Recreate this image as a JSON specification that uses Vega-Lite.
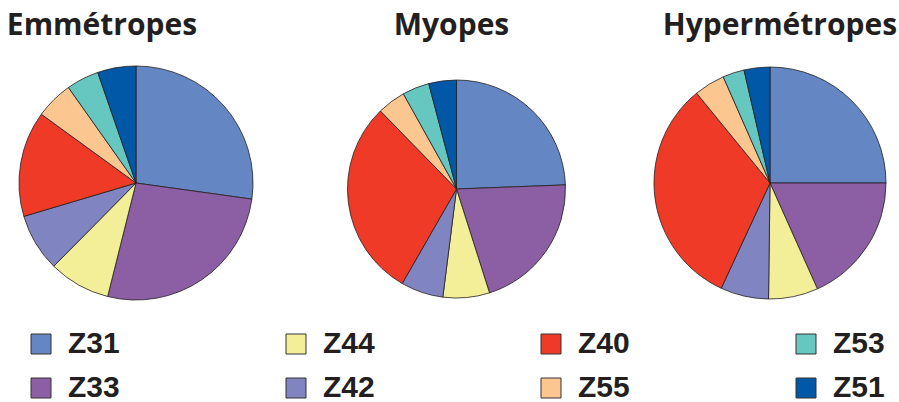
{
  "$schema": "https://vega.github.io/schema/vega-lite/v6.json",
  "padding": {"top": 11, "left": 0, "right": 0, "bottom": 0},
  "background": "white",
  "datasets": {
    "pies": [
      {"group": "Emmétropes", "zone": "Z31", "rank": 1, "value": 27.2},
      {"group": "Emmétropes", "zone": "Z33", "rank": 2, "value": 26.7},
      {"group": "Emmétropes", "zone": "Z44", "rank": 3, "value": 8.5},
      {"group": "Emmétropes", "zone": "Z42", "rank": 4, "value": 8.0},
      {"group": "Emmétropes", "zone": "Z40", "rank": 5, "value": 14.6},
      {"group": "Emmétropes", "zone": "Z55", "rank": 6, "value": 5.2},
      {"group": "Emmétropes", "zone": "Z53", "rank": 7, "value": 4.5},
      {"group": "Emmétropes", "zone": "Z51", "rank": 8, "value": 5.3},
      {"group": "Myopes", "zone": "Z31", "rank": 1, "value": 24.4},
      {"group": "Myopes", "zone": "Z33", "rank": 2, "value": 20.7},
      {"group": "Myopes", "zone": "Z44", "rank": 3, "value": 6.9},
      {"group": "Myopes", "zone": "Z42", "rank": 4, "value": 6.3},
      {"group": "Myopes", "zone": "Z40", "rank": 5, "value": 29.4},
      {"group": "Myopes", "zone": "Z55", "rank": 6, "value": 4.2},
      {"group": "Myopes", "zone": "Z53", "rank": 7, "value": 4.0},
      {"group": "Myopes", "zone": "Z51", "rank": 8, "value": 4.1},
      {"group": "Hypermétropes", "zone": "Z31", "rank": 1, "value": 25.0},
      {"group": "Hypermétropes", "zone": "Z33", "rank": 2, "value": 18.3},
      {"group": "Hypermétropes", "zone": "Z44", "rank": 3, "value": 6.9},
      {"group": "Hypermétropes", "zone": "Z42", "rank": 4, "value": 6.7},
      {"group": "Hypermétropes", "zone": "Z40", "rank": 5, "value": 32.2},
      {"group": "Hypermétropes", "zone": "Z55", "rank": 6, "value": 4.3},
      {"group": "Hypermétropes", "zone": "Z53", "rank": 7, "value": 3.0},
      {"group": "Hypermétropes", "zone": "Z51", "rank": 8, "value": 3.6}
    ]
  },
  "spacing": 10,
  "hconcat": [
    {
      "title": {"text": "Emmétropes", "dx": -34},
      "width": 272,
      "height": 264,
      "data": {"name": "pies"},
      "transform": [{"filter": "datum.group === 'Emmétropes'"}],
      "mark": {"type": "arc", "radius": 117, "stroke": "#231f20", "strokeWidth": 0.8},
      "encoding": {
        "theta": {"field": "value", "type": "quantitative", "stack": true},
        "order": {"field": "rank", "type": "quantitative", "sort": "ascending"},
        "color": {
          "field": "zone", "type": "nominal",
          "scale": {
            "domain": ["Z31", "Z44", "Z40", "Z53", "Z33", "Z42", "Z55", "Z51"],
            "range": ["#6486c2", "#f3ef98", "#ee3a26", "#66c6c0", "#8c5fa5", "#8084c0", "#fcc690", "#0058a7"]
          },
          "legend": {"title": null}
        }
      }
    },
    {
      "title": {"text": "Myopes", "dx": -5},
      "width": 349,
      "height": 276,
      "data": {"name": "pies"},
      "transform": [{"filter": "datum.group === 'Myopes'"}],
      "mark": {"type": "arc", "radius": 109, "stroke": "#231f20", "strokeWidth": 0.8},
      "encoding": {
        "theta": {"field": "value", "type": "quantitative", "stack": true},
        "order": {"field": "rank", "type": "quantitative", "sort": "ascending"},
        "color": {"field": "zone", "type": "nominal", "legend": {"title": null}}
      }
    },
    {
      "title": {"text": "Hypermétropes", "dx": 10},
      "width": 258,
      "height": 264,
      "data": {"name": "pies"},
      "transform": [{"filter": "datum.group === 'Hypermétropes'"}],
      "mark": {"type": "arc", "radius": 116, "stroke": "#231f20", "strokeWidth": 0.8},
      "encoding": {
        "theta": {"field": "value", "type": "quantitative", "stack": true},
        "order": {"field": "rank", "type": "quantitative", "sort": "ascending"},
        "color": {"field": "zone", "type": "nominal", "legend": {"title": null}}
      }
    }
  ],
  "config": {
    "view": {"stroke": null},
    "title": {
      "font": "Open Sans",
      "fontSize": 30,
      "fontWeight": "bold",
      "color": "#231f20",
      "offset": 10,
      "anchor": "middle"
    },
    "legend": {
      "orient": "none",
      "legendX": 26,
      "legendY": 278,
      "columns": 4,
      "direction": "horizontal",
      "padding": 0,
      "symbolType": "square",
      "symbolSize": 400,
      "symbolStrokeColor": "#333333",
      "symbolStrokeWidth": 1,
      "symbolOpacity": 1,
      "labelFont": "Liberation Sans",
      "labelFontSize": 30,
      "labelFontWeight": "bold",
      "labelColor": "#231f20",
      "labelOffset": 12,
      "labelLimit": 200,
      "columnPadding": 161,
      "rowPadding": 14
    }
  }
}
